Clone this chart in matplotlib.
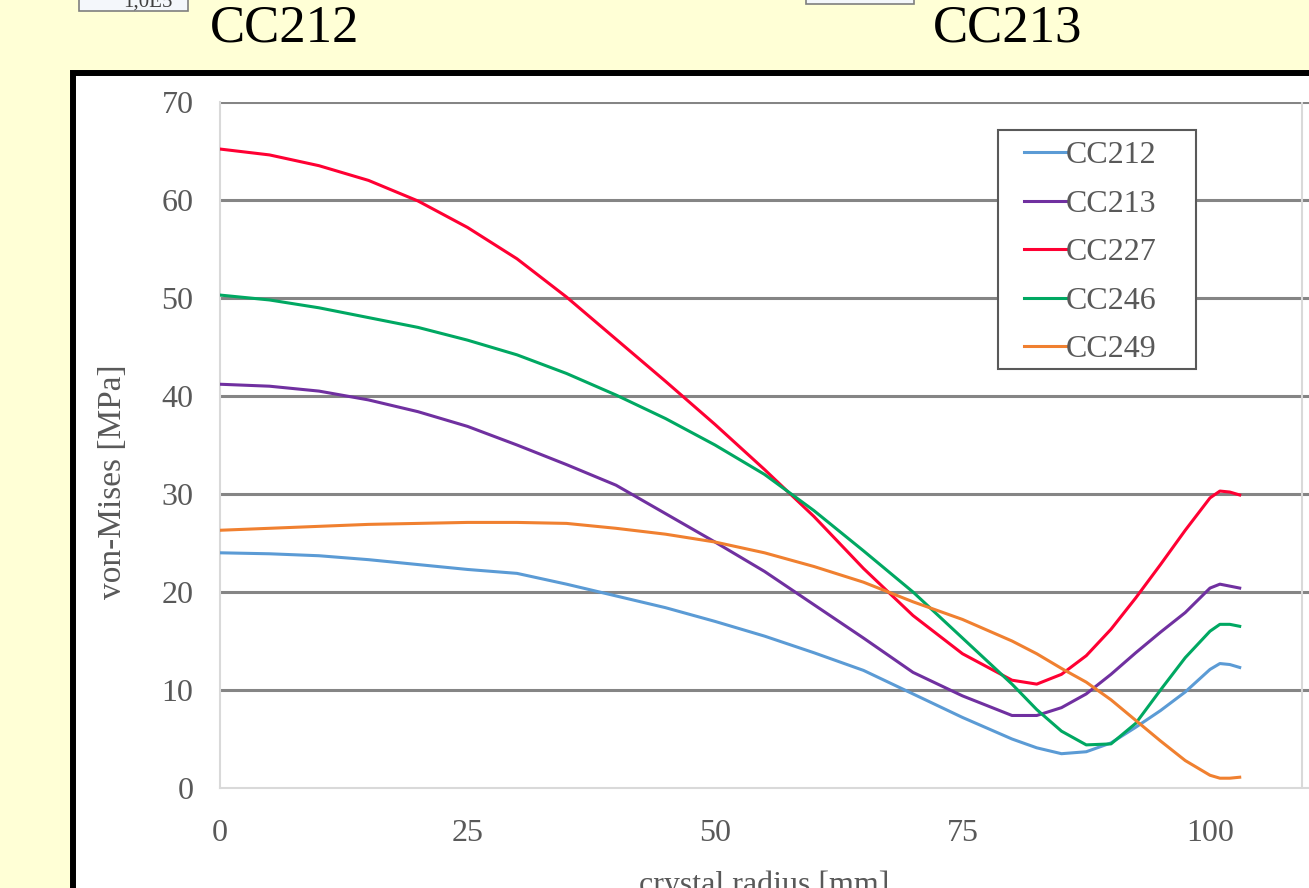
import matplotlib
matplotlib.use('Agg')
import matplotlib.pyplot as plt
from matplotlib.patches import Rectangle

plt.rcParams['font.family'] = ['Liberation Serif', 'DejaVu Serif']

# von-Mises stress along the crystal radius
radius = [0, 5, 10, 15, 20, 25, 30, 35, 40, 45, 50, 55, 60, 65, 70, 75, 80,
          82.5, 85, 87.5, 90, 92.5, 95, 97.5, 100, 101, 102, 103]
cc212 = [24.0, 23.9, 23.7, 23.3, 22.8, 22.3, 21.9, 20.8, 19.6, 18.4, 17.0, 15.5, 13.8, 12.0, 9.6, 7.2, 5.0,
         4.1, 3.5, 3.7, 4.6, 6.2, 7.9, 9.8, 12.1, 12.7, 12.6, 12.3]
cc213 = [41.2, 41.0, 40.5, 39.6, 38.4, 36.9, 35.0, 33.0, 30.9, 28.0, 25.1, 22.1, 18.7, 15.3, 11.8, 9.4, 7.4,
         7.4, 8.2, 9.6, 11.6, 13.8, 15.9, 17.9, 20.4, 20.8, 20.6, 20.4]
cc227 = [65.2, 64.6, 63.5, 62.0, 59.9, 57.2, 54.0, 50.1, 45.8, 41.5, 37.1, 32.5, 27.7, 22.4, 17.6, 13.7, 11.0,
         10.6, 11.6, 13.5, 16.2, 19.4, 22.8, 26.3, 29.6, 30.3, 30.2, 29.9]
cc246 = [50.3, 49.8, 49.0, 48.0, 47.0, 45.7, 44.2, 42.3, 40.1, 37.7, 35.0, 32.0, 28.3, 24.2, 20.0, 15.3, 10.6,
         8.0, 5.8, 4.4, 4.5, 6.6, 10.0, 13.3, 16.0, 16.7, 16.7, 16.5]
cc249 = [26.3, 26.5, 26.7, 26.9, 27.0, 27.1, 27.1, 27.0, 26.5, 25.9, 25.1, 24.0, 22.6, 21.0, 19.0, 17.2, 15.0,
         13.7, 12.2, 10.8, 9.0, 6.9, 4.8, 2.8, 1.3, 1.0, 1.0, 1.1]

labels = ['CC212', 'CC213', 'CC227', 'CC246', 'CC249']
series = [cc212, cc213, cc227, cc246, cc249]
colors = ['#5B9BD5', '#7030A0', '#FF0033', '#00A862', '#F08030']
x_ticks = [0, 25, 50, 75, 100]
y_ticks = [0, 10, 20, 30, 40, 50, 60, 70]

W, H = 1309, 888
def fx(px): return px / W
def fy(py): return 1 - py / H

fig = plt.figure(figsize=(W / 100, H / 100), dpi=100, facecolor='#FFFFD6')

# slide furniture: cut-off boxes at the top and the titles
fig.patches.append(Rectangle((fx(79), fy(11)), fx(109), 0.05, transform=fig.transFigure,
                             facecolor='#F4F7FB', edgecolor='#7F7F7F', lw=1.2))
fig.patches.append(Rectangle((fx(806), fy(4)), fx(108), 0.05, transform=fig.transFigure,
                             facecolor='#F4F7FB', edgecolor='#7F7F7F', lw=1.2))
fig.text(fx(148), fy(7), '1,0E5', fontsize=15, color='#404040', ha='center', va='baseline')
fig.text(fx(285), fy(42), 'CC212', fontsize=38, color='black', ha='center', va='baseline')
fig.text(fx(1008), fy(42), 'CC213', fontsize=38, color='black', ha='center', va='baseline')

# white panel with thick black border running off the slide
fig.patches.append(Rectangle((fx(73), -0.2), 2, fy(73) + 0.2, transform=fig.transFigure,
                             facecolor='white', edgecolor='black', lw=4.3, zorder=0))

ax = fig.add_axes([fx(220), fy(788), 1 - fx(220), fy(102) - fy(788)])
ax.set_zorder(2)
ax.set_facecolor('none')
ax.set_xlim(0, (W - 220) / 9.9)
ax.set_ylim(0, 70)

ax.hlines(y_ticks[1:], 0, 1, transform=ax.get_yaxis_transform(), colors='#858585', lw=2.2, zorder=1)
ax.axvline(109.3, color='#D9D9D9', lw=1.5, zorder=1)

for vals, lab, col in zip(series, labels, colors):
    ax.plot(radius, vals, color=col, lw=2.2, label=lab, zorder=3)

for s in ['top', 'right']:
    ax.spines[s].set_visible(False)
for s in ['left', 'bottom']:
    ax.spines[s].set_color('#D9D9D9')
    ax.spines[s].set_linewidth(1.5)

ax.set_xticks(x_ticks)
ax.set_yticks(y_ticks)
ax.tick_params(axis='both', length=0, labelsize=23, labelcolor='#595959')
ax.tick_params(axis='x', pad=22)
ax.tick_params(axis='y', pad=19)

fig.text(fx(113), fy(482), 'von-Mises [MPa]', rotation=90, fontsize=24, color='#595959',
         ha='center', va='center', zorder=3)
fig.text(fx(764), fy(893), 'crystal radius [mm]', fontsize=23, color='#595959',
         ha='center', va='baseline', zorder=3)

# legend frame drawn separately so the padding matches the slide
def to_ax(px, py):
    return (px - 220) / (W - 220), (788 - py) / (788 - 102)

lx, ly = to_ax(998, 369)
rx, ry = to_ax(1196, 130)
ax.add_patch(Rectangle((lx, ly), rx - lx, ry - ly, transform=ax.transAxes,
                       facecolor='white', edgecolor='#595959', lw=1.5, zorder=4))
ax_x, ax_y = to_ax(1024, 141)
leg = ax.legend(loc='upper left', bbox_to_anchor=(ax_x, ax_y), frameon=False, fontsize=23,
                handlelength=1.3, handletextpad=0.0, labelspacing=0.6, borderpad=0,
                borderaxespad=0)
leg.set_zorder(5)
for t in leg.get_texts():
    t.set_color('#595959')

fig.savefig('out.png', dpi=100, facecolor=fig.get_facecolor())
